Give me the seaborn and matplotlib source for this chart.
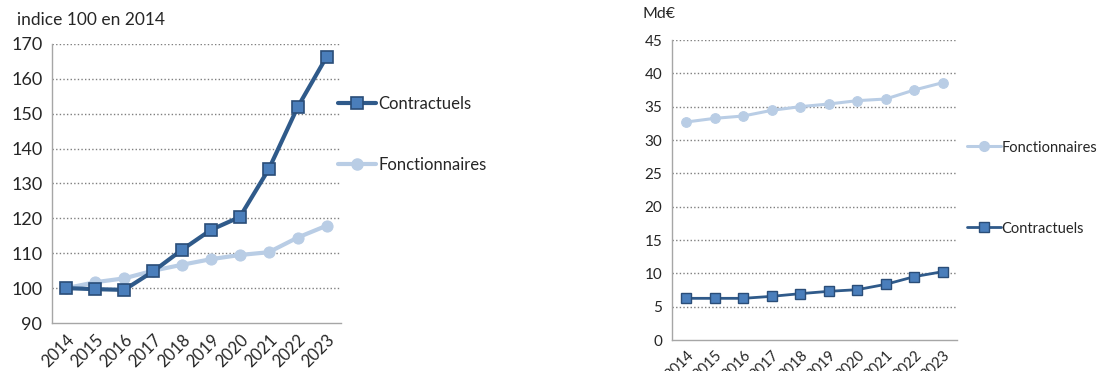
import numpy as np
import pandas as pd
import matplotlib
matplotlib.use("Agg")
import matplotlib.pyplot as plt
from matplotlib.lines import Line2D
from matplotlib.ticker import FixedLocator
import seaborn as sns

# Data
years = ["2014", "2015", "2016", "2017", "2018", "2019", "2020", "2021", "2022", "2023"]
index_contractuels = [100.0, 99.7, 99.5, 104.8, 111.0, 116.7, 120.4, 134.1, 151.9, 166.3]
index_fonctionnaires = [100.0, 101.7, 102.8, 105.0, 106.7, 108.3, 109.5, 110.3, 114.5, 117.9]
mde_fonctionnaires = [32.7, 33.25, 33.6, 34.45, 35.0, 35.4, 35.9, 36.15, 37.5, 38.6]
mde_contractuels = [6.25, 6.25, 6.25, 6.55, 6.95, 7.3, 7.55, 8.35, 9.5, 10.25]
left_yticks = [90, 100, 110, 120, 130, 140, 150, 160, 170]
right_yticks = [0, 5, 10, 15, 20, 25, 30, 35, 40, 45]

DARK_LINE = "#2F5A8A"
DARK_FILL = "#4A7EBB"
DARK_EDGE = "#2A4D78"
LIGHT = "#B9CDE5"
TEXT = "#262626"
GRID = "#7F7F7F"
SPINE = "#A6A6A6"

sns.set_theme(style="white")
plt.rcParams["font.family"] = ["Lato", "DejaVu Sans"]

fig = plt.figure(figsize=(11.01, 3.71), dpi=100)
W, H = 1101, 371
ax1 = fig.add_axes([52 / W, 1 - 323 / H, (341 - 52) / W, (323 - 44) / H])
ax2 = fig.add_axes([672 / W, 1 - 340 / H, (957 - 672) / W, (340 - 40) / H])

pos = np.arange(len(years))
df = pd.DataFrame({
    "pos": pos,
    "ic": index_contractuels,
    "if": index_fonctionnaires,
    "mc": mde_contractuels,
    "mf": mde_fonctionnaires,
})


def style_axes(ax, yticks, fs, xfs):
    ax.set_xlim(-0.5, len(years) - 0.5)
    ax.set_ylim(yticks[0], yticks[-1])
    ax.set_yticks(yticks)
    ax.set_yticklabels([str(v) for v in yticks], fontsize=fs, color=TEXT)
    ax.set_xticks(pos)
    ax.set_xticklabels(years, rotation=45, ha="right", rotation_mode="anchor",
                       fontsize=xfs, color=TEXT)
    ax.xaxis.set_minor_locator(FixedLocator(np.arange(-0.5, len(years), 1.0)))
    ax.tick_params(axis="x", which="major", length=0, pad=6)
    ax.tick_params(axis="x", which="minor", length=5, width=1, color=SPINE, direction="out")
    ax.tick_params(axis="y", which="major", length=4, width=1, color=SPINE,
                   direction="out", pad=3)
    for y in yticks[1:]:
        ax.axhline(y, color=GRID, lw=1.0, ls=(0, (1, 1.6)), zorder=0)
    for s in ("top", "right"):
        ax.spines[s].set_visible(False)
    for s in ("left", "bottom"):
        ax.spines[s].set_color(SPINE)
        ax.spines[s].set_linewidth(1.0)
    ax.set_xlabel("")
    ax.set_ylabel("")


# Left panel: index 100 in 2014
sns.lineplot(data=df, x="pos", y="if", ax=ax1, color=LIGHT, lw=3.0, marker="o",
             markersize=8, markerfacecolor=LIGHT, markeredgecolor=LIGHT, zorder=3)
sns.lineplot(data=df, x="pos", y="ic", ax=ax1, color=DARK_LINE, lw=3.0, marker="s",
             markersize=8, markerfacecolor=DARK_FILL, markeredgecolor=DARK_EDGE,
             markeredgewidth=1.2, zorder=4)
style_axes(ax1, left_yticks, 13, 12)
fig.text(17 / W, 1 - 20 / H, "indice 100 en 2014", fontsize=12.5, color=TEXT,
         va="center", ha="left")

h_c1 = Line2D([], [], color=DARK_LINE, lw=3.0, marker="s", markersize=8,
              markerfacecolor=DARK_FILL, markeredgecolor=DARK_EDGE, markeredgewidth=1.2)
h_f1 = Line2D([], [], color=LIGHT, lw=3.0, marker="o", markersize=8,
              markerfacecolor=LIGHT, markeredgecolor=LIGHT)
ax1.legend([h_c1, h_f1], ["Contractuels", "Fonctionnaires"], frameon=False,
           loc="upper left", bbox_to_anchor=(0.99, 0.815), fontsize=12,
           labelcolor=TEXT, handlelength=2.3, handletextpad=0.12,
           labelspacing=2.7, borderaxespad=0, borderpad=0)

# Right panel: amounts in Md€
sns.lineplot(data=df, x="pos", y="mf", ax=ax2, color=LIGHT, lw=2.2, marker="o",
             markersize=7, markerfacecolor=LIGHT, markeredgecolor=LIGHT, zorder=3)
sns.lineplot(data=df, x="pos", y="mc", ax=ax2, color=DARK_LINE, lw=2.0, marker="s",
             markersize=7, markerfacecolor=DARK_FILL, markeredgecolor=DARK_EDGE,
             markeredgewidth=1.0, zorder=4)
style_axes(ax2, right_yticks, 11, 10.5)
fig.text(643 / W, 1 - 14 / H, "Md€", fontsize=11.5, color=TEXT, va="center", ha="left")

h_c2 = Line2D([], [], color=DARK_LINE, lw=2.0, marker="s", markersize=7,
              markerfacecolor=DARK_FILL, markeredgecolor=DARK_EDGE, markeredgewidth=1.0)
h_f2 = Line2D([], [], color=LIGHT, lw=2.2, marker="o", markersize=7,
              markerfacecolor=LIGHT, markeredgecolor=LIGHT)
ax2.legend([h_f2, h_c2], ["Fonctionnaires", "Contractuels"], frameon=False,
           loc="upper left", bbox_to_anchor=(1.035, 0.665), fontsize=10.5,
           labelcolor=TEXT, handlelength=2.3, handletextpad=0.08,
           labelspacing=4.6, borderaxespad=0, borderpad=0)

fig.savefig("out.png", dpi=100)
